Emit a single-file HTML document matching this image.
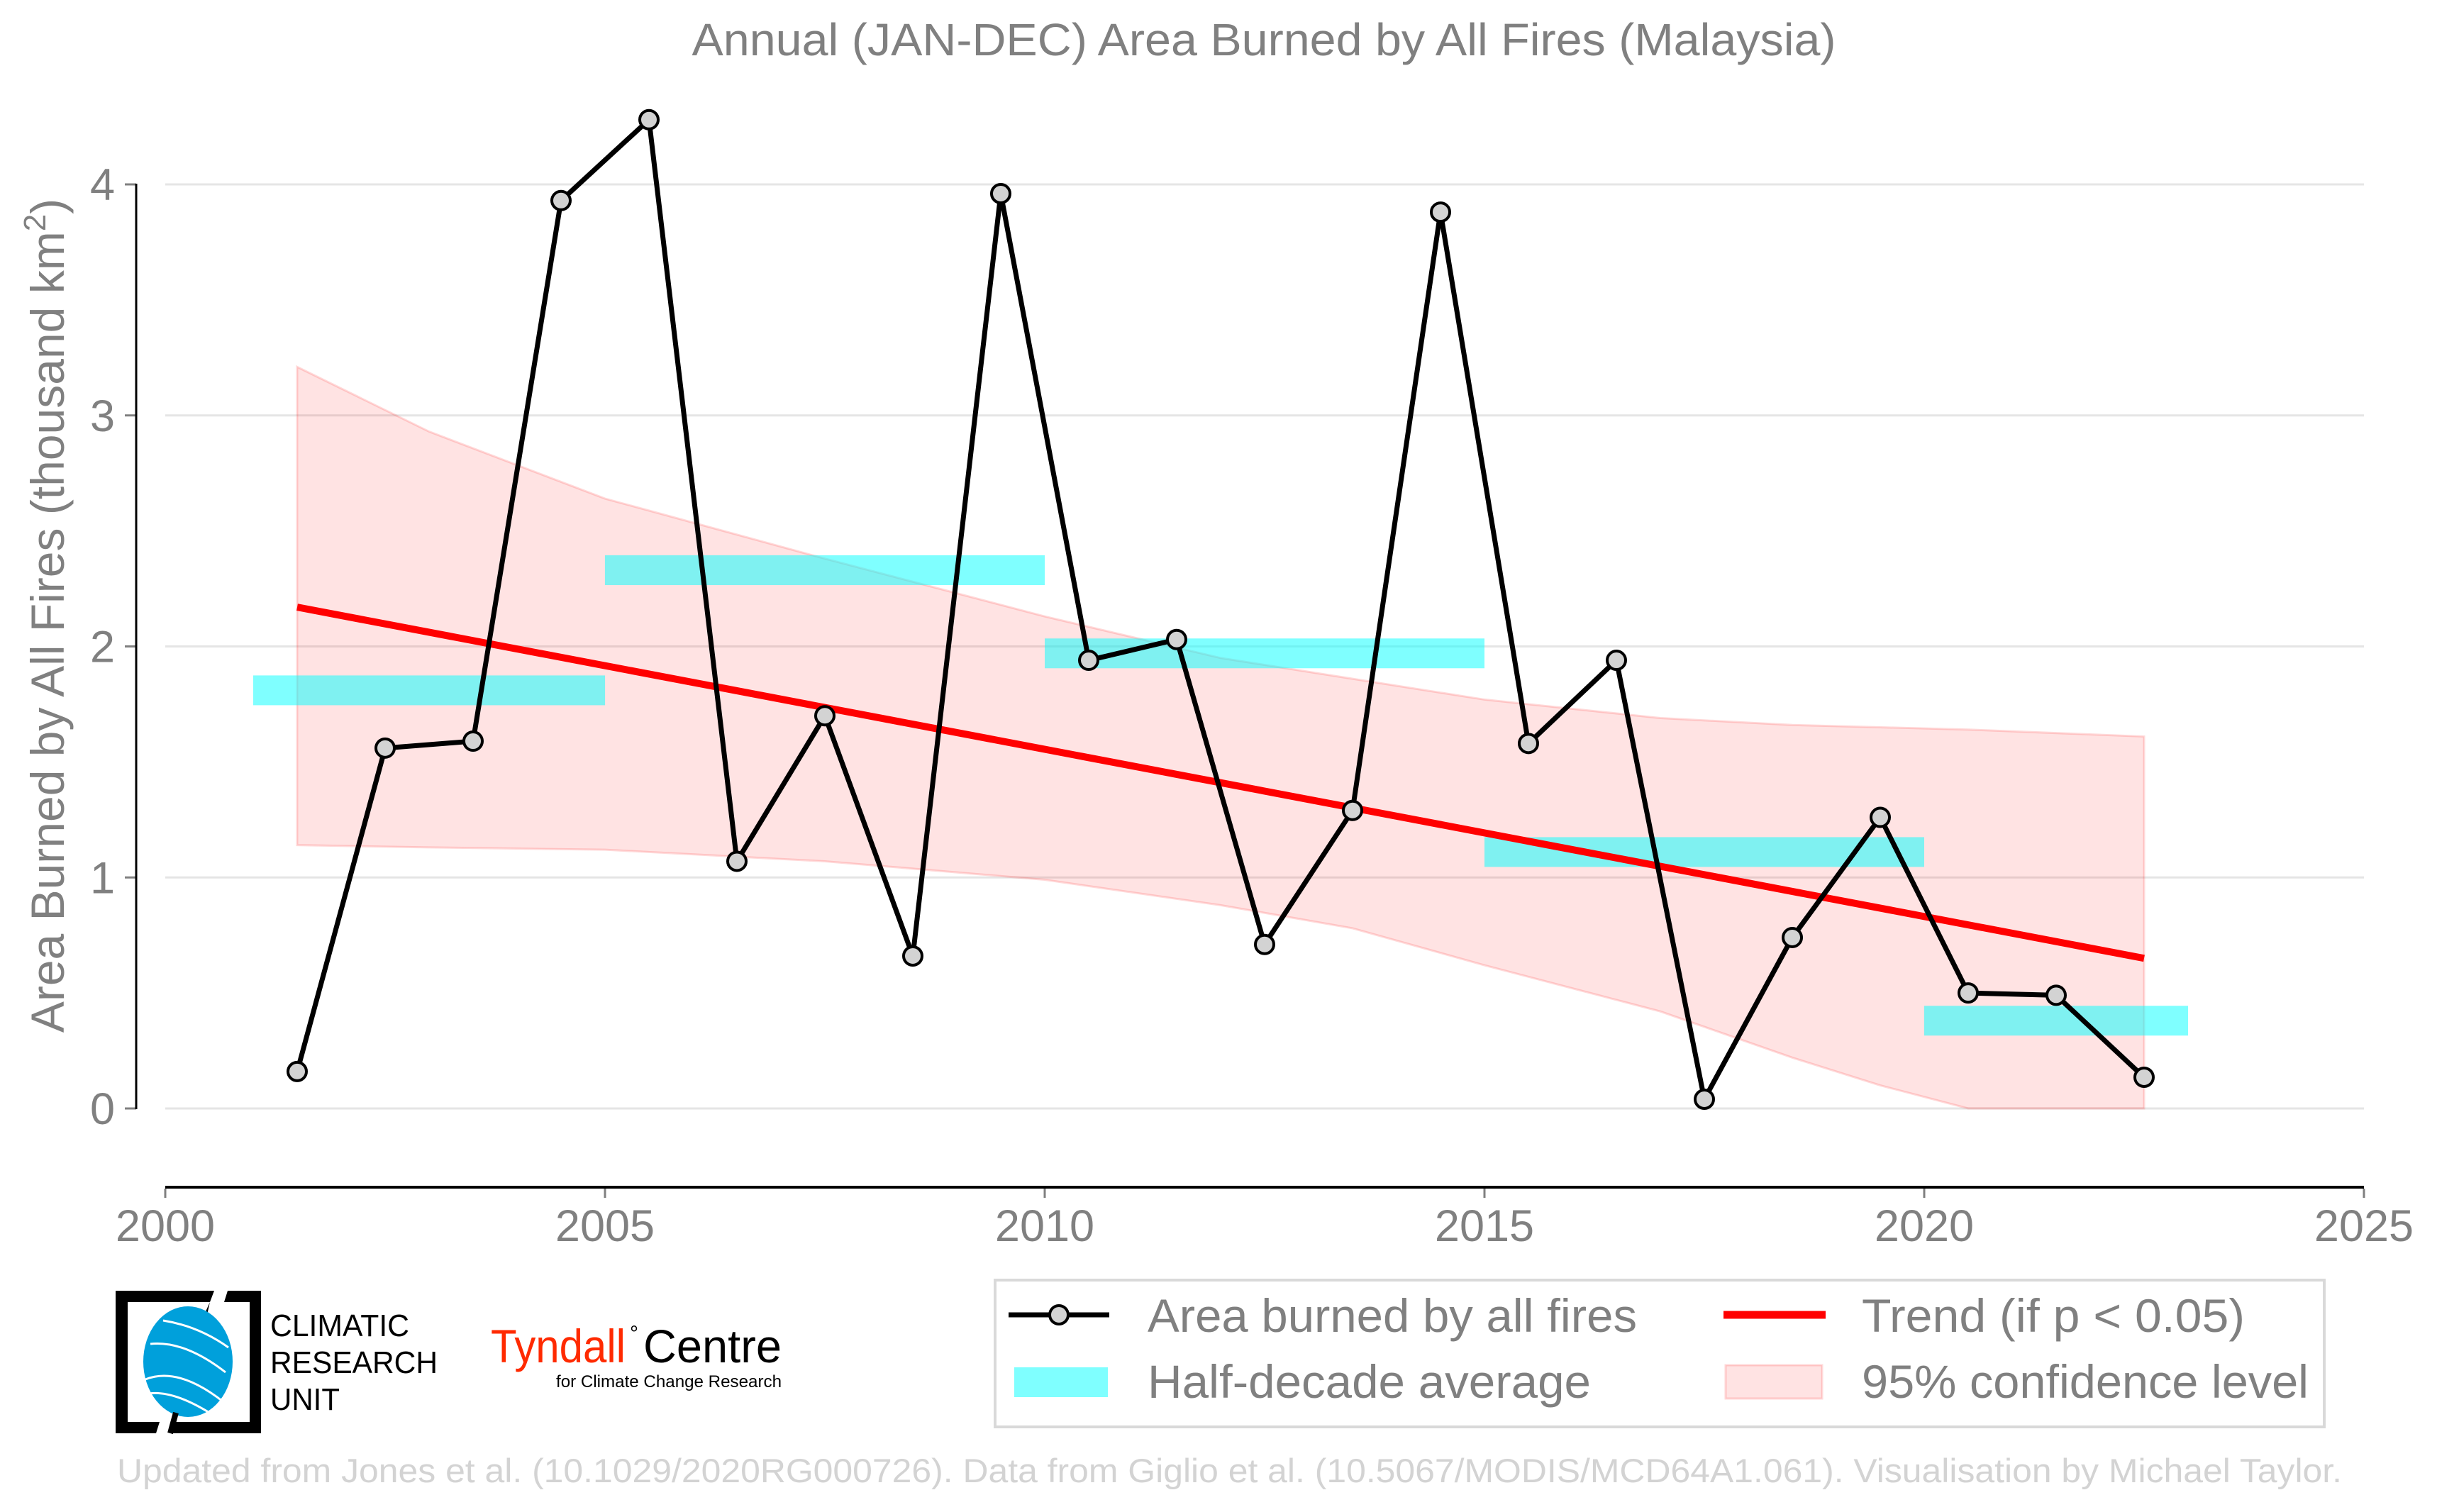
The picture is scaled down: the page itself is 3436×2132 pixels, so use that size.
<!DOCTYPE html>
<html><head><meta charset="utf-8">
<style>
html,body{margin:0;padding:0;background:#fff;}
svg{display:block;font-family:"Liberation Sans",Arial,sans-serif;}
</style></head>
<body>
<svg id="chart" width="3436" height="2132" viewBox="0 0 3436 2132" xmlns="http://www.w3.org/2000/svg">
  <rect width="3436" height="2132" fill="#fff"/>
  <text x="1782" y="78" text-anchor="middle" font-size="64" fill="#808080" textLength="1613" lengthAdjust="spacingAndGlyphs">Annual (JAN-DEC) Area Burned by All Fires (Malaysia)</text>
  <text transform="translate(90,868) rotate(-90)" text-anchor="middle" font-size="66" fill="#808080">Area Burned by All Fires (thousand km<tspan dy="-26" font-size="44">2</tspan><tspan dy="26">)</tspan></text>
  <g id="grid"></g>
  <g id="ci"></g>
  <g id="half"></g>
  <g id="trend"></g>
  <g id="series"></g>
  <g id="axes"></g>

  <g>
    <rect x="1403" y="1805" width="1874" height="207" fill="#fff" stroke="#d9d9d9" stroke-width="4"/>
    <g>
      <line x1="1422" y1="1854" x2="1564" y2="1854" stroke="#000" stroke-width="7"/>
      <circle cx="1493" cy="1854" r="13" fill="#d3d3d3" stroke="#000" stroke-width="4"/>
      <text x="1618" y="1878" font-size="66" fill="#808080" textLength="690" lengthAdjust="spacingAndGlyphs">Area burned by all fires</text>
    </g>
    <g>
      <line x1="2430" y1="1854" x2="2574" y2="1854" stroke="#ff0000" stroke-width="11"/>
      <text x="2625" y="1878" font-size="66" fill="#808080" textLength="540" lengthAdjust="spacingAndGlyphs">Trend (if p &lt; 0.05)</text>
    </g>
    <g>
      <rect x="1430" y="1928" width="132" height="42" fill="#7fffff"/>
      <text x="1618" y="1971" font-size="66" fill="#808080" textLength="625" lengthAdjust="spacingAndGlyphs">Half-decade average</text>
    </g>
    <g>
      <rect x="2433" y="1925" width="136" height="47" fill="rgba(255,0,0,0.11)" stroke="rgba(255,0,0,0.15)" stroke-width="3"/>
      <text x="2625" y="1971" font-size="66" fill="#808080" textLength="630" lengthAdjust="spacingAndGlyphs">95% confidence level</text>
    </g>
  </g>

  <g>
    <path d="M163,1820 L302,1820 L296,1836 L180,1836 L180,2005 L225,2005 L220,2021 L163,2021 Z" fill="#000"/>
    <path d="M321,1820 L368,1820 L368,2021 L243,2021 L248,2005 L352,2005 L352,1836 L316,1836 Z" fill="#000"/>
    <path d="M296,1836 L286,1880 L276,1880 Z" fill="#000"/>
    <ellipse cx="265" cy="1920" rx="63" ry="78" fill="#00a0db"/>
    <path d="M212,1895 Q260,1890 318,1935 M205,1945 Q255,1925 325,1985 M210,1965 Q245,1960 300,1995 M230,1862 Q280,1870 322,1900" stroke="#fff" stroke-width="3" fill="none"/>
    <path d="M248,1992 L240,2021" stroke="#000" stroke-width="8"/>
    <text x="381" y="1884" font-size="44" fill="#000" textLength="196" lengthAdjust="spacingAndGlyphs">CLIMATIC</text>
    <text x="381" y="1936" font-size="44" fill="#000" textLength="236" lengthAdjust="spacingAndGlyphs">RESEARCH</text>
    <text x="381" y="1988" font-size="44" fill="#000" textLength="98" lengthAdjust="spacingAndGlyphs">UNIT</text>
  </g>
  <g>
    <text x="692" y="1921" font-size="66" fill="#ff2a00" textLength="190" lengthAdjust="spacingAndGlyphs">Tyndall</text>
    <text x="888" y="1890" font-size="30" fill="#000">°</text>
    <text x="907" y="1921" font-size="66" fill="#000" textLength="195" lengthAdjust="spacingAndGlyphs">Centre</text>
    <text x="1102" y="1956" font-size="24" fill="#000" text-anchor="end" textLength="318" lengthAdjust="spacingAndGlyphs">for Climate Change Research</text>
  </g>

  <text x="165" y="2090" font-size="47" fill="#d3d3d3" textLength="3137" lengthAdjust="spacingAndGlyphs">Updated from Jones et al. (10.1029/2020RG000726). Data from Giglio et al. (10.5067/MODIS/MCD64A1.061). Visualisation by Michael Taylor.</text>
</svg>
<script>
const years = [2001.5,2002.5,2003.5,2004.5,2005.5,2006.5,2007.5,2008.5,2009.5,2010.5,2011.5,2012.5,2013.5,2014.5,2015.5,2016.5,2017.5,2018.5,2019.5,2020.5,2021.5,2022.5];
const areaValues = [0.16,1.56,1.59,3.93,4.28,1.07,1.70,0.66,3.96,1.94,2.03,0.71,1.29,3.88,1.58,1.94,0.04,0.74,1.26,0.50,0.49,0.135];
const halfStarts = [2001,2005,2010,2015,2020];
const halfEnds = [2005,2010,2015,2020,2023];
const halfValues = [1.81,2.33,1.97,1.11,0.38];
const trendYears = [2001.5,2022.5];
const trendValues = [2.17,0.65];
const ciYears = [2001.5,2003,2005,2007.5,2010,2012,2013.5,2015,2017,2018.5,2019.5,2020.5,2022.5];
const ciUpper = [3.21,2.93,2.64,2.38,2.13,1.95,1.86,1.77,1.69,1.66,1.65,1.64,1.61];
const ciLower = [1.14,1.13,1.12,1.07,0.99,0.88,0.78,0.62,0.42,0.22,0.10,0.0,0.0];
const xTicks = [2000,2005,2010,2015,2020,2025];
const yTicks = [0,1,2,3,4];

const NS = "http://www.w3.org/2000/svg";
const X0=233, X1=3333, Y0=1563, PXU=325.75;
function xs(v){return X0+(v-2000)/25*(X1-X0);}
function ys(v){return Y0-v*PXU;}
function mk(tag,attrs,parent){const e=document.createElementNS(NS,tag);for(const k in attrs)e.setAttribute(k,attrs[k]);parent.appendChild(e);return e;}

const grid=document.getElementById('grid');
const axes=document.getElementById('axes');
yTicks.forEach(t=>{
  const g=mk('line',{x1:X0,x2:X1,y1:ys(t),y2:ys(t),stroke:'#e5e5e5','stroke-width':3},grid);
  
  
  const tk=mk('line',{x1:176,x2:192,y1:ys(t),y2:ys(t),stroke:'#808080','stroke-width':3},axes);
  
  
  const lb=mk('text',{x:162,y:ys(t)+22,'text-anchor':'end','font-size':63,fill:'#808080'},axes);
  lb.textContent=t;
  
  
});
const ya=mk('line',{x1:192,x2:192,y1:ys(4)-1,y2:ys(0)+1,stroke:'#000','stroke-width':3},axes);


const xa=mk('line',{x1:X0,x2:X1,y1:1674,y2:1674,stroke:'#000','stroke-width':4},axes);


xTicks.forEach(t=>{
  const tk=mk('line',{x1:xs(t),x2:xs(t),y1:1676,y2:1689,stroke:'#808080','stroke-width':3},axes);
  
  
  const lb=mk('text',{x:xs(t),y:1750,'text-anchor':'middle','font-size':63,fill:'#808080'},axes);
  lb.textContent=t;
  
  
});

let d='';
ciYears.forEach((y,i)=>{d+=(i?'L':'M')+xs(y)+','+ys(ciUpper[i]);});
for(let i=ciYears.length-1;i>=0;i--){d+='L'+xs(ciYears[i])+','+ys(ciLower[i]);}
d+='Z';
const ci=mk('path',{d:d,fill:'rgba(255,0,0,0.11)',stroke:'rgba(255,0,0,0.15)','stroke-width':3},document.getElementById('ci'));



const half=document.getElementById('half');
halfValues.forEach((v,i)=>{
  const r=mk('rect',{x:xs(halfStarts[i]),y:ys(v)-21,width:xs(halfEnds[i])-xs(halfStarts[i]),height:42,fill:'rgba(0,255,255,0.5)'},half);
  
  
});

const tr=mk('line',{x1:xs(trendYears[0]),y1:ys(trendValues[0]),x2:xs(trendYears[1]),y2:ys(trendValues[1]),stroke:'#ff0000','stroke-width':10},document.getElementById('trend'));



const ser=document.getElementById('series');
const pts=years.map((y,i)=>xs(y)+','+ys(areaValues[i])).join(' ');
const pl=mk('polyline',{points:pts,fill:'none',stroke:'#000','stroke-width':7,'stroke-linejoin':'round'},ser);


years.forEach((y,i)=>{
  const c=mk('circle',{cx:xs(y),cy:ys(areaValues[i]),r:13,fill:'#d3d3d3',stroke:'#000','stroke-width':4},ser);
  
  
});
</script>
</body></html>
